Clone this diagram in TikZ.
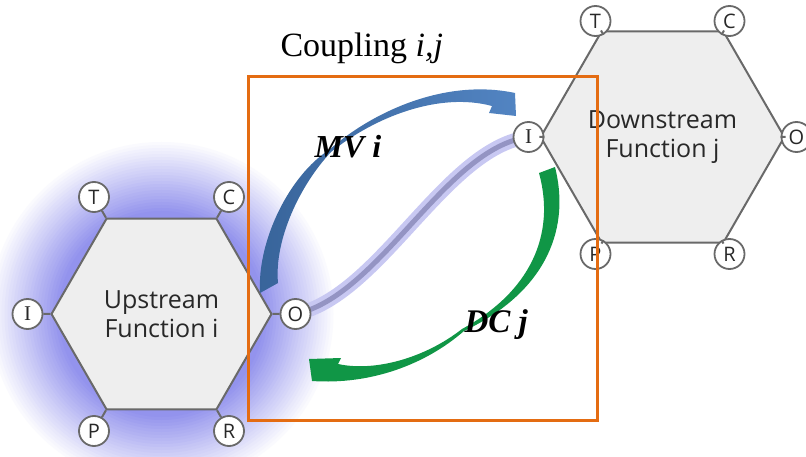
\documentclass[tikz,border=0pt]{standalone}
\usepackage{fontspec}
\setmainfont{Liberation Serif}
\newfontfamily\hexfont{Open Sans}
\usetikzlibrary{shapes.geometric,backgrounds}
\definecolor{glowc}{RGB}{135,135,235}
\definecolor{hexfill}{RGB}{238,238,238}
\definecolor{hexline}{RGB}{105,105,105}
\definecolor{txtc}{RGB}{40,40,40}
\definecolor{bandc}{RGB}{200,200,242}
\definecolor{corec}{RGB}{148,148,195}
\definecolor{blueD}{RGB}{56,100,154}
\definecolor{blueL}{RGB}{82,132,194}
\definecolor{greenc}{RGB}{16,150,70}
\definecolor{orangec}{RGB}{228,108,18}
\begin{document}
\begin{tikzpicture}[x=1pt,y=-1pt,
  hexagon/.style={regular polygon, regular polygon sides=6, minimum size=220pt, inner sep=0pt,
    draw=hexline, line width=2pt, fill=hexfill, text=txtc, align=center,
    font=\hexfont\fontsize{25}{29}\selectfont},
  port/.style={circle, minimum size=30pt, inner sep=0pt, draw=hexline, line width=1.8pt,
    fill=white, text=txtc, font=\hexfont\fontsize{20}{20}\selectfont},
  serifport/.style={port, font=\fontsize{21}{21}\selectfont},
  stub/.style={draw=hexline, line width=2pt},
  flowlabel/.style={anchor=base west, text=black, font=\fontsize{33}{38}\selectfont\bfseries\itshape}
]
\useasboundingbox (0,0) rectangle (806,457);

% hexagons
\node[hexagon] (hexU) at (161.5,314) {Upstream\\Function i};
\node[hexagon] (hexD) at (662.5,137) {Downstream\\Function j};

% ports upstream
\node[port] (uT) at (94,197) {T};
\node[port] (uC) at (229,197) {C};
\node[serifport] (uI) at (27.5,314) {I};
\node[port] (uO) at (295.5,314) {O};
\node[port] (uP) at (94,431) {P};
\node[port] (uR) at (229,431) {R};
% ports downstream
\node[port] (dT) at (595.5,21) {T};
\node[port] (dC) at (729.5,21) {C};
\node[serifport] (dI) at (528.5,137) {I};
\node[port] (dO) at (796.5,137) {O};
\node[port] (dP) at (595.5,254) {P};
\node[port] (dR) at (729.5,254) {R};

\foreach \p in {uT,uC,uI,uO,uP,uR} \draw[stub] (\p) -- (hexU);
\foreach \p in {dT,dC,dI,dO,dP,dR} \draw[stub] (\p) -- (hexD);

\begin{pgfonlayer}{background}
  \foreach \r [evaluate=\r as \pc using {max(0,min(90,90*(175-\r)/72))}] in {175,172,...,100}
    \fill[glowc!\pc!white] (161.5,314) circle (\r);
  \draw[bandc, line width=14pt] (uO.center) .. controls (380,296) and (445,148) .. (dI.center);
  \draw[corec, line width=5pt] (uO.center) .. controls (380,296) and (445,148) .. (dI.center);
\end{pgfonlayer}

% MV i arrow (blue)
\shade[left color=blueD, right color=blueL]
  (260,293) .. controls (257,240) and (290,175) .. (329,150)
  .. controls (372,112) and (445,78) .. (515,93)
  -- (516,116) -- (489,113) -- (492,106)
  .. controls (440,92) and (376,116) .. (331,152)
  .. controls (300,185) and (274,240) .. (278,283) -- cycle;

% DC j arrow (green)
\fill[greenc]
  (555,167) .. controls (572,235) and (540,295) .. (464,331)
  .. controls (425,365) and (370,385) .. (312,381)
  -- (309,359) -- (341,358) -- (338,364)
  .. controls (375,372) and (425,358) .. (462,329)
  .. controls (530,292) and (556,235) .. (539,173) -- cycle;

\node[flowlabel, font=\fontsize{32}{38}\selectfont\bfseries\itshape] (mv) at (311,158) {MV i};
\node[flowlabel] (dc) at (461,332) {DC j};

\node[anchor=base west, font=\fontsize{34}{40}\selectfont] (title) at (277,57) {Coupling \textit{i,j}};

% coupling box
\node[draw=orangec, line width=3pt, minimum width=349pt, minimum height=343pt, inner sep=0pt] (box) at (422.5,248.5) {};
\end{tikzpicture}
\end{document}
